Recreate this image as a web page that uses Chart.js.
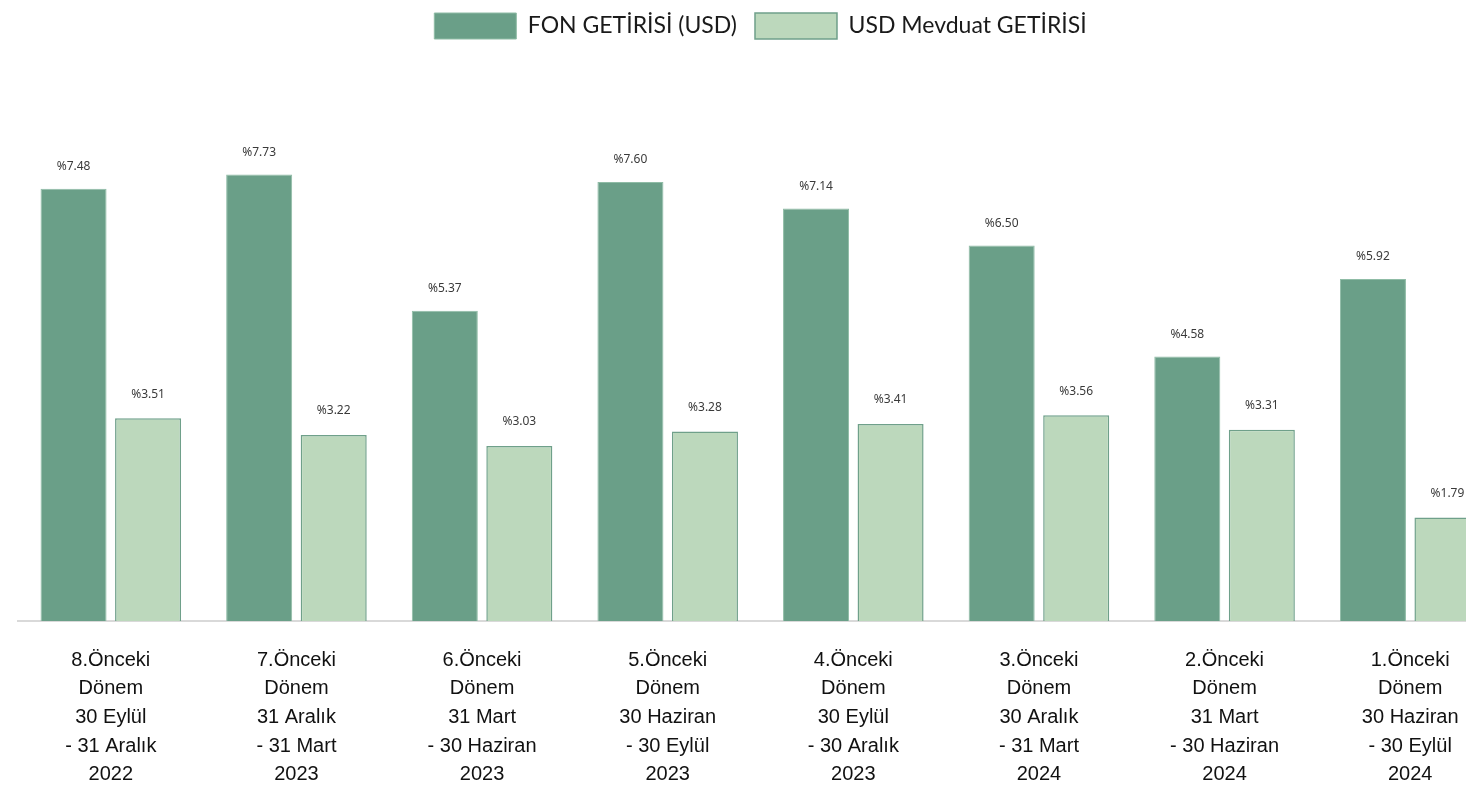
<!DOCTYPE html>
<html>
<head>
<meta charset="utf-8">
<script src="https://cdn.jsdelivr.net/npm/chart.js@4.4.1/dist/chart.umd.min.js"></script>
<style>
  html, body { margin: 0; padding: 0; background: #fff; overflow: hidden; }
  #wrap { position: absolute; left: 0; top: 0; width: 1503px; height: 789px; }
</style>
</head>
<body>
<div id="wrap"><canvas id="c"></canvas></div>
<script>
const categories = [
  ["8.Önceki", "Dönem", "30 Eylül", "- 31 Aralık", "2022"],
  ["7.Önceki", "Dönem", "31 Aralık", "- 31 Mart", "2023"],
  ["6.Önceki", "Dönem", "31 Mart", "- 30 Haziran", "2023"],
  ["5.Önceki", "Dönem", "30 Haziran", "- 30 Eylül", "2023"],
  ["4.Önceki", "Dönem", "30 Eylül", "- 30 Aralık", "2023"],
  ["3.Önceki", "Dönem", "30 Aralık", "- 31 Mart", "2024"],
  ["2.Önceki", "Dönem", "31 Mart", "- 30 Haziran", "2024"],
  ["1.Önceki", "Dönem", "30 Haziran", "- 30 Eylül", "2024"]
];
const fonGetirisi = [7.48, 7.73, 5.37, 7.60, 7.14, 6.50, 4.58, 5.92];
const usdMevduat = [3.51, 3.22, 3.03, 3.28, 3.41, 3.56, 3.31, 1.79];
const seriesNames = ["FON GETİRİSİ (USD)", "USD Mevduat GETİRİSİ"];

const valueLabels = {
  id: 'valueLabels',
  afterDatasetsDraw(chart) {
    const ctx = chart.ctx;
    ctx.save();
    ctx.font = '12px "Noto Sans", sans-serif';
    ctx.fillStyle = '#3a3a3a';
    ctx.textAlign = 'center';
    ctx.textBaseline = 'middle';
    chart.data.datasets.forEach((ds, di) => {
      const meta = chart.getDatasetMeta(di);
      const off = di === 0 ? 22 : 24;
      meta.data.forEach((bar, i) => {
        ctx.fillText('%' + ds.data[i].toFixed(2), bar.x, bar.y - off);
      });
    });
    ctx.restore();
  }
};

const legendSpace = {
  id: 'legendSpace',
  beforeInit(chart) {
    const orig = chart.legend.fit;
    chart.legend.fit = function () {
      orig.bind(chart.legend)();
      this.height += 52;
    };
  }
};

new Chart(document.getElementById('c'), {
  type: 'bar',
  data: {
    labels: categories,
    datasets: [
      {
        label: seriesNames[0],
        data: fonGetirisi,
        backgroundColor: '#6a9f88',
        borderColor: '#8fbca6',
        borderWidth: 1,
        barPercentage: 0.886,
        categoryPercentage: 0.803
      },
      {
        label: seriesNames[1],
        data: usdMevduat,
        backgroundColor: '#bcd8bc',
        borderColor: '#6fa08a',
        borderWidth: 1.5,
        barPercentage: 0.886,
        categoryPercentage: 0.803
      }
    ]
  },
  options: {
    responsive: true,
    maintainAspectRatio: false,
    animation: false,
    layout: { padding: { left: 18, right: 0, top: -5, bottom: -25 } },
    plugins: {
      tooltip: { enabled: false },
      legend: {
        position: 'top',
        labels: {
          boxWidth: 82,
          boxHeight: 26,
          padding: 18,
          color: '#1a1a1a',
          font: { family: 'Lato, "Noto Sans", sans-serif', size: 23 }
        }
      }
    },
    scales: {
      x: {
        grid: { display: false, drawTicks: false },
        border: { display: true, color: '#d9d9d9', width: 2 },
        ticks: {
          color: '#111',
          padding: 25,
          maxRotation: 0,
          autoSkip: false,
          font: { family: 'Arial, "Liberation Sans", sans-serif', size: 20, lineHeight: 1.43 }
        }
      },
      y: {
        display: false,
        min: 0,
        max: 9
      }
    }
  },
  plugins: [valueLabels, legendSpace]
});
</script>
</body>
</html>
